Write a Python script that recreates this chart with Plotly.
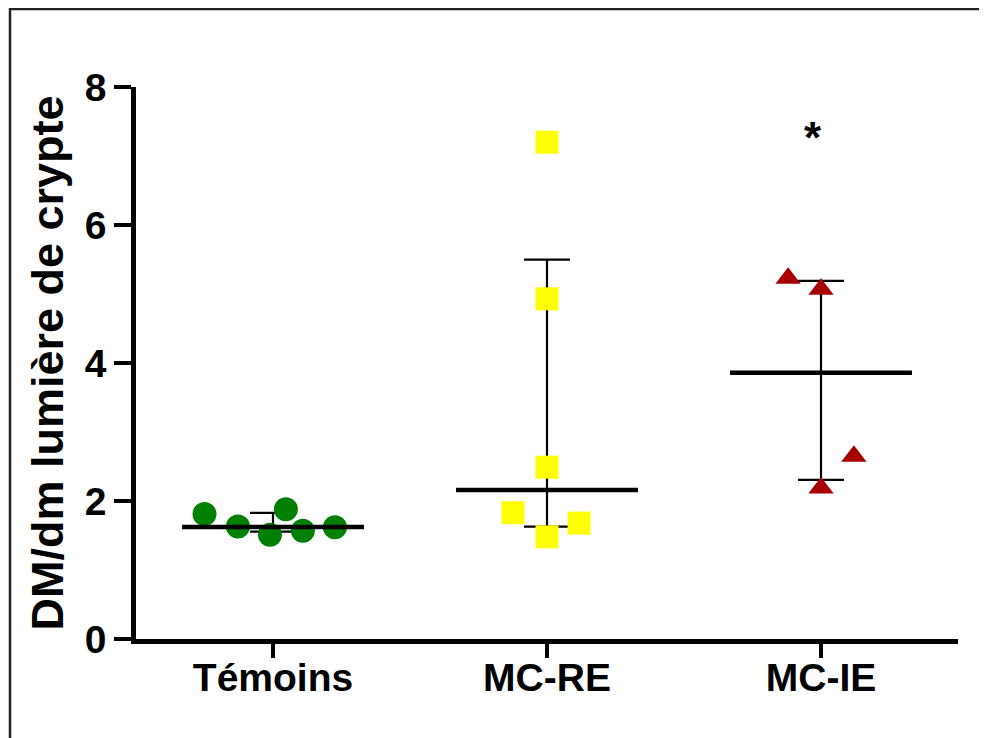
import numpy as np
import plotly.graph_objects as go

categories = ["Témoins", "MC-RE", "MC-IE"]
temoins = [1.81, 1.63, 1.51, 1.88, 1.57, 1.62]
temoins_jitter = [-0.25, -0.128, -0.011, 0.047, 0.109, 0.226]
mcre = [7.20, 4.93, 2.49, 1.83, 1.48, 1.68]
mcre_jitter = [0.0, 0.0, 0.0, -0.124, 0.0, 0.117]
mcie = [5.23, 5.07, 2.65, 2.19]
mcie_jitter = [-0.12, 0.0, 0.12, 0.0]
y_ticks = [0, 2, 4, 6, 8]
signif_label = "*"

groups = [temoins, mcre, mcie]
jitters = [temoins_jitter, mcre_jitter, mcie_jitter]
colors = ["#008000", "#ffff00", "#a80000"]
symbols = ["circle", "square", "triangle-up"]
sizes = [24, 23, 22]

FONT = "Arial, 'Liberation Sans', sans-serif"

fig = go.Figure()

# median with interquartile range (error bars)
for i, vals in enumerate(groups):
    v = np.array(vals)
    med = float(np.median(v))
    q1 = float(np.quantile(v, 0.25, method="weibull"))
    q3 = float(np.quantile(v, 0.75, method="weibull"))
    fig.add_trace(go.Scatter(
        x=[i], y=[med], mode="markers",
        marker=dict(size=1, color="rgba(0,0,0,0)"),
        error_y=dict(type="data", symmetric=False, array=[q3 - med],
                     arrayminus=[med - q1], color="black", thickness=2.2, width=23),
        showlegend=False, hoverinfo="skip"))

# data points
for i, vals in enumerate(groups):
    fig.add_trace(go.Scatter(
        x=[i + j for j in jitters[i]], y=vals, mode="markers",
        marker=dict(symbol=symbols[i], size=sizes[i], color=colors[i],
                    line=dict(width=0)),
        showlegend=False))

# median lines
for i, vals in enumerate(groups):
    med = float(np.median(vals))
    fig.add_trace(go.Scatter(
        x=[i - 0.332, i + 0.332], y=[med, med], mode="lines",
        line=dict(color="black", width=4.5), showlegend=False, hoverinfo="skip"))

fig.add_annotation(x=2 - 0.03, y=7.27, text=signif_label, showarrow=False,
                   font=dict(family=FONT, size=44, color="black", weight="bold"),
                   xanchor="center", yanchor="middle")

# outer frame
fig.add_shape(type="rect", xref="paper", yref="paper",
              x0=-126 / 822, x1=1.3, y0=-0.3, y1=1 + 78 / 552,
              line=dict(color="#222222", width=2.5), layer="below")

fig.update_layout(
    width=979, height=730,
    margin=dict(l=128, r=29, t=79, b=99),
    plot_bgcolor="white", paper_bgcolor="white",
    font=dict(family=FONT, color="black"),
    xaxis=dict(
        range=[-0.5, 2.5], tickmode="array", tickvals=[0, 1, 2], ticktext=categories,
        showline=True, linecolor="black", linewidth=4.5, ticks="outside",
        ticklen=14, tickwidth=4, tickcolor="black", showgrid=False, zeroline=False,
        tickfont=dict(family=FONT, size=39, color="black", weight="bold"),
        ticklabelstandoff=-14,
    ),
    yaxis=dict(
        range=[0, 8], tickmode="array", tickvals=y_ticks,
        showline=True, linecolor="black", linewidth=4.5, ticks="outside",
        ticklen=17, tickwidth=4, tickcolor="black", showgrid=False, zeroline=False,
        tickfont=dict(family=FONT, size=39, color="black", weight="bold"),
        ticklabelstandoff=0,
        title=dict(text="DM/dm lumière de crypte", standoff=8,
                   font=dict(family=FONT, size=45, color="black", weight="bold")),
    ),
)

fig.write_html("out.html")
